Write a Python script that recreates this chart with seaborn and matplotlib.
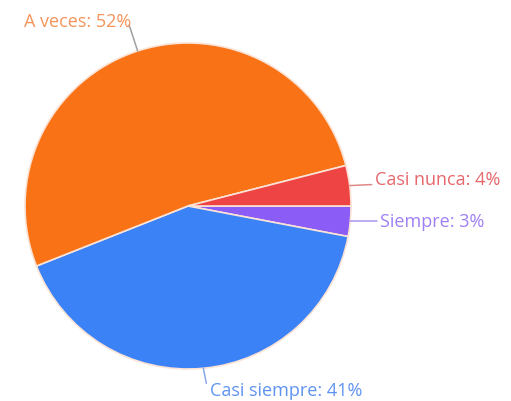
import matplotlib
matplotlib.use("Agg")
import matplotlib.pyplot as plt
import numpy as np
import seaborn as sns

# Survey answer shares (percent), in clockwise order from 3 o'clock
categories = ["Siempre", "Casi siempre", "A veces", "Casi nunca"]
values = [3, 41, 52, 4]
colors = ["#8B5CF6", "#3B82F6", "#F97316", "#EF4444"]
label_colors = ["#9F7FF5", "#5F93F2", "#F5935A", "#E5676B"]
line_colors = ["#A995F0", "#8AA8E8", "#A0A0A0", "#E08888"]

sns.set_theme(style="white")
plt.rcParams["font.family"] = ["Open Sans", "DejaVu Sans"]

W, H = 511, 402
fig = plt.figure(figsize=(W / 100, H / 100), dpi=100)
ax = fig.add_axes([0, 0, 1, 1])

cx, cy, r = 188, H - 207, 163
wedges, _ = ax.pie(values, colors=colors, startangle=0, counterclock=False,
                   center=(cx, cy), radius=r, frame=True,
                   wedgeprops=dict(edgecolor="#FBE3D6", linewidth=1.2))
ax.set_xlim(0, W)
ax.set_ylim(0, H)
ax.set_aspect("equal")
ax.axis("off")

# leader path and label anchor, as offsets from each wedge's outer mid-point
layout = {
    "Siempre": dict(path=[(27, 0)], text=(30, 0), ha="left"),
    "Casi nunca": dict(path=[(22, 1)], text=(25, 6.5), ha="left"),
    "A veces": dict(path=[(-8.5, 26)], text=(-6.5, 30), ha="right"),
    "Casi siempre": dict(path=[(3, -15)], text=(7, -22), ha="left"),
}

for w, cat, val, lc, tc in zip(wedges, categories, values, line_colors, label_colors):
    mid = np.deg2rad((w.theta1 + w.theta2) / 2)
    x0, y0 = cx + r * np.cos(mid), cy + r * np.sin(mid)
    spec = layout[cat]
    xs = [x0] + [x0 + dx for dx, dy in spec["path"]]
    ys = [y0] + [y0 + dy for dx, dy in spec["path"]]
    ax.plot(xs, ys, color=lc, lw=1.1, solid_capstyle="round")
    tx, ty = x0 + spec["text"][0], y0 + spec["text"][1]
    ax.text(tx, ty, f"{cat}: {val}%", color=tc, fontsize=13,
            ha=spec["ha"], va="center")

fig.savefig("out.png", dpi=100, facecolor="white")
